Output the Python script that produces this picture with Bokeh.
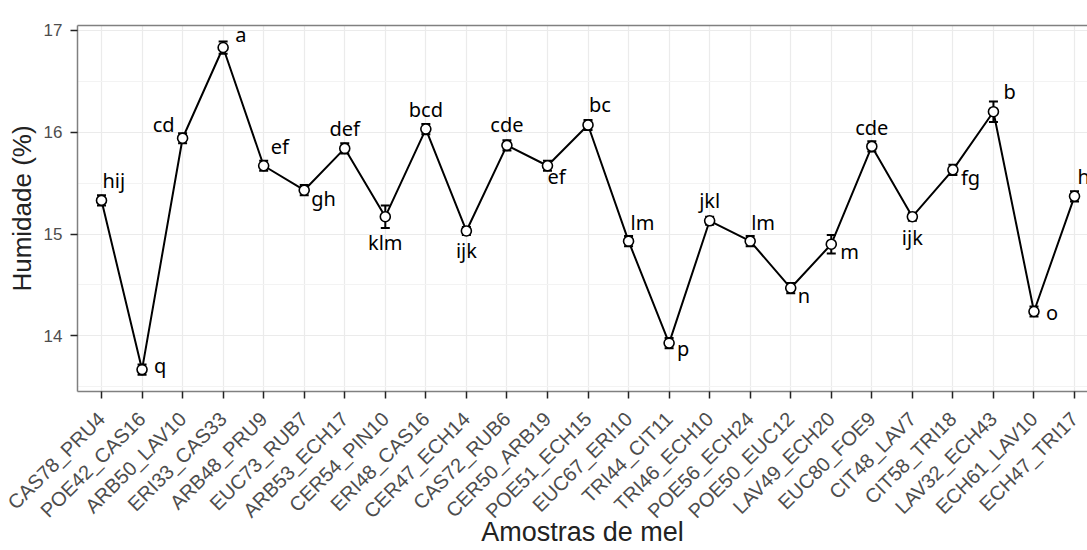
import math
from bokeh.plotting import figure
from bokeh.models import Range1d, FixedTicker, LinearAxis, ColumnDataSource
from bokeh.core.properties import value
from bokeh.embed import file_html
from bokeh.resources import INLINE

samples = ["CAS78_PRU4", "POE42_CAS16", "ARB50_LAV10", "ERI33_CAS33", "ARB48_PRU9",
           "EUC73_RUB7", "ARB53_ECH17", "CER54_PIN10", "ERI48_CAS16", "CER47_ECH14",
           "CAS72_RUB6", "CER50_ARB19", "POE51_ECH15", "EUC67_ERI10", "TRI44_CIT11",
           "TRI46_ECH10", "POE56_ECH24", "POE50_EUC12", "LAV49_ECH20", "EUC80_FOE9",
           "CIT48_LAV7", "CIT58_TRI18", "LAV32_ECH43", "ECH61_LAV10", "ECH47_TRI17"]
humidity = [15.33, 13.67, 15.94, 16.83, 15.67,
            15.43, 15.84, 15.17, 16.03, 15.03,
            15.87, 15.67, 16.07, 14.93, 13.93,
            15.13, 14.93, 14.47, 14.90, 15.86,
            15.17, 15.63, 16.20, 14.24, 15.37]
sd = [0.05, 0.05, 0.05, 0.06, 0.05,
      0.05, 0.05, 0.11, 0.05, 0.04,
      0.05, 0.05, 0.05, 0.05, 0.05,
      0.04, 0.05, 0.05, 0.09, 0.05,
      0.04, 0.05, 0.10, 0.05, 0.05]
letters = ["hij", "q", "cd", "a", "ef",
           "gh", "def", "klm", "bcd", "ijk",
           "cde", "ef", "bc", "lm", "p",
           "jkl", "lm", "n", "m", "cde",
           "ijk", "fg", "b", "o", "hi"]
x_title = "Amostras de mel"
y_title = "Humidade (%)"

# label placement (screen pixel offsets from the point) - style only
label_dx = [1, 12, -8, 12, 7, 7, 0, 0, 0, 0, 0, 0, 1, 2, 8, 0, 1, 7, 9, 0, 0, 8, 10, 12, 3]
label_dy = [-11, 5, -5, -4, -10, 17, -11, 35, -11, 29, -12, 20, -11, -10, 14, -11, -10, 16, 16, -10, 30, 17, -11, 10, -11]
label_dy = [d - 9 for d in label_dy]
label_align = ["left", "left", "right", "left", "left", "left", "center", "center", "center", "center",
               "center", "left", "left", "left", "left", "center", "left", "left", "left", "center",
               "center", "left", "left", "left", "left"]

xs = list(range(len(samples)))
upper = [h + s for h, s in zip(humidity, sd)]
lower = [h - s for h, s in zip(humidity, sd)]

src = ColumnDataSource(dict(x=xs, y=humidity, upper=upper, lower=lower,
                            lab=letters, dx=label_dx, dy=label_dy, align=label_align))

BORDER = "#808080"
GRID = "#ebebeb"

p = figure(width=1087, height=550, output_backend="svg", toolbar_location=None,
           x_range=Range1d(-0.592, 24.32), y_range=Range1d(13.455, 17.046),
           min_border_left=77, min_border_right=0, min_border_top=25, min_border_bottom=159,
           background_fill_color="white", border_fill_color="white")
p.outline_line_color = None

# grids
p.xgrid.ticker = FixedTicker(ticks=xs)
p.xgrid.grid_line_color = GRID
p.xgrid.grid_line_width = 1.2
p.ygrid.ticker = FixedTicker(ticks=[14, 15, 16, 17], minor_ticks=[13.5, 14.5, 15.5, 16.5])
p.ygrid.grid_line_color = GRID
p.ygrid.grid_line_width = 1.2
p.ygrid.minor_grid_line_color = "#f3f3f3"
p.ygrid.minor_grid_line_width = 1

# x axis
p.xaxis.ticker = FixedTicker(ticks=xs)
p.xaxis.major_label_overrides = {i: s for i, s in enumerate(samples)}
p.xaxis.major_label_orientation = math.pi / 4
p.xaxis.major_label_text_font = "Liberation Sans"
p.xaxis.major_label_text_font_size = "20px"
p.xaxis.major_label_text_color = "#4d4d4d"
p.xaxis.major_label_standoff = 17
p.xaxis.axis_label = x_title

# y axis
p.yaxis.ticker = FixedTicker(ticks=[14, 15, 16, 17])
p.yaxis.major_label_text_font = "Liberation Sans"
p.yaxis.major_label_text_font_size = "17px"
p.yaxis.major_label_text_color = "#4d4d4d"
p.yaxis.major_label_standoff = 8
p.yaxis.axis_label = y_title

for ax in (p.xaxis[0], p.yaxis[0]):
    ax.axis_line_color = BORDER
    ax.axis_line_width = 1.5
    ax.major_tick_line_color = "#222222"
    ax.major_tick_line_width = 1.5
    ax.major_tick_out = 7
    ax.major_tick_in = 0
    ax.minor_tick_out = 0
    ax.minor_tick_in = 0
    ax.axis_label_text_font = "Liberation Sans"
    ax.axis_label_text_font_style = "normal"
    ax.axis_label_text_color = "#222222"
p.yaxis.axis_label_text_font_size = "26px"
p.xaxis.axis_label_text_font_size = "27px"
p.yaxis.axis_label_standoff = 4
p.xaxis.axis_label_standoff = -16

# top border
top = LinearAxis(ticker=FixedTicker(ticks=[]), axis_line_color=BORDER, axis_line_width=1.5,
                 major_tick_out=0, major_tick_in=0, minor_tick_out=0, minor_tick_in=0,
                 major_label_text_font_size="0px")
p.add_layout(top, "above")

# series
p.line("x", "y", source=src, line_color="black", line_width=2)
p.segment(x0="x", y0="lower", x1="x", y1="upper", source=src, line_color="black", line_width=2)
p.scatter("x", "upper", source=src, marker="dash", size=9, line_color="black", line_width=2)
p.scatter("x", "lower", source=src, marker="dash", size=9, line_color="black", line_width=2)
p.scatter("x", "y", source=src, marker="circle", size=10, fill_color="white",
          line_color="black", line_width=1.6)

p.text("x", "y", text="lab", source=src, x_offset="dx", y_offset="dy", text_align="align",
       text_baseline="alphabetic", text_font=value("Noto Sans"), text_font_size="20px",
       text_color="black")

open("out.html", "w").write(file_html(p, INLINE))
